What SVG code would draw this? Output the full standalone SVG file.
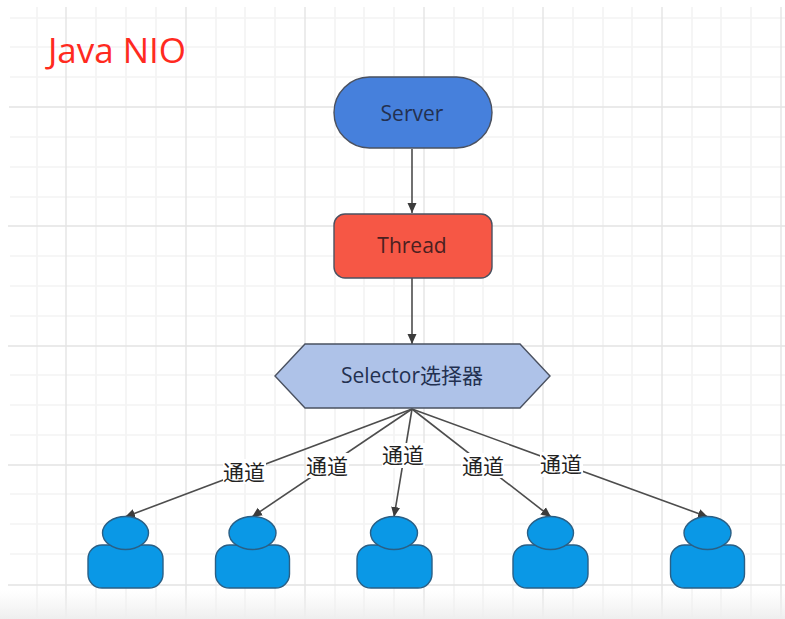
<svg xmlns="http://www.w3.org/2000/svg" width="785" height="619" viewBox="0 0 785 619">
<style>
.minor{stroke:#f3f3f3;stroke-width:1.6;fill:none}
.major{stroke:#e4e4e4;stroke-width:1.4;fill:none}
.node{stroke:#4a5160;stroke-width:1.4}
.person{fill:#0a98e6;stroke:#2a5f85;stroke-width:1.4}
.conn{stroke:#4d4d4d;stroke-width:1.6;fill:none;marker-end:url(#arrow)}
text{font-family:"Open Sans","Noto Sans CJK SC",sans-serif;text-anchor:middle}
.lbl{font-family:"Noto Sans CJK SC",sans-serif;font-size:21px;fill:#222}
.nt{font-size:21px;fill:#233050}
</style>
<defs>
<marker id="arrow" markerUnits="userSpaceOnUse" markerWidth="12" markerHeight="10" refX="10" refY="5" orient="auto"><path d="M0 0.500L10 5L0 9.500Z" fill="#3c3c3c"/></marker>
<linearGradient id="fade" x1="0" y1="0" x2="0" y2="1"><stop offset="0" stop-color="#f2f2f2" stop-opacity="0"/><stop offset="1" stop-color="#eeeeee" stop-opacity="1"/></linearGradient>
</defs>
<rect width="785" height="619" fill="#fff"/>
<g id="grid">
<path class="minor" d="M37 7V619M96 7V619M126 7V619M156 7V619M216 7V619M245 7V619M275 7V619M335 7V619M364 7V619M394 7V619M454 7V619M483 7V619M513 7V619M573 7V619M603 7V619M632 7V619M692 7V619M721 7V619M751 7V619"/>
<path class="minor" d="M10 18H785M10 47H785M10 77H785M10 137H785M10 167H785M10 197H785M10 256H785M10 286H785M10 316H785M10 375H785M10 405H785M10 435H785M10 494H785M10 524H785M10 554H785"/>
<path class="major" d="M66 7V619M186 7V619M305 7V619M424 7V619M543 7V619M662 7V619M781 7V619"/>
<path class="major" d="M9 107H785M8 226H785M8 346H785M8 465H785M8 585H785"/>
</g>
<rect x="0" y="590" width="785" height="29" fill="url(#fade)"/>
<text x="117" y="63" font-size="35" fill="#ff2a1f" id="title">Java NIO</text>
<g id="connectors">
<path class="conn" d="M412 149V213"/>
<path class="conn" d="M412 278V344"/>
<path class="conn" d="M412 409L125 517"/>
<path class="conn" d="M412 409L252 517"/>
<path class="conn" d="M412 409L394 517"/>
<path class="conn" d="M412 409L551 517"/>
<path class="conn" d="M412 409L708 517"/>
</g>
<g id="server"><rect class="node" x="334" y="77" width="158" height="71" rx="35.500" fill="#4680dc"/><text class="nt" x="412" y="121">Server</text></g>
<g id="thread"><rect class="node" x="334" y="214" width="158" height="64" rx="11" fill="#f65745"/><text class="nt" x="412" y="253" style="fill:#4a2020">Thread</text></g>
<g id="selector"><polygon class="node" points="275,376 305,344 520,344 550,376 520,408 305,408" fill="#aec2e8"/><text class="nt" x="412" y="383">Selector选择器</text></g>
<g id="labels">
<rect x="223" y="459" width="43" height="25" fill="#fff"/><text class="lbl" x="244" y="480">通道</text>
<rect x="306" y="453" width="43" height="25" fill="#fff"/><text class="lbl" x="327" y="474">通道</text>
<rect x="382" y="443" width="43" height="25" fill="#fff"/><text class="lbl" x="403" y="463">通道</text>
<rect x="461" y="453" width="43" height="25" fill="#fff"/><text class="lbl" x="483" y="474">通道</text>
<rect x="540" y="452" width="43" height="25" fill="#fff"/><text class="lbl" x="561" y="472">通道</text>
</g>
<g id="person1"><rect class="person" x="88" y="545" width="75" height="43" rx="14"/><ellipse class="person" cx="125.500" cy="533" rx="23" ry="16.500"/></g>
<g id="person2"><rect class="person" x="215.500" y="545" width="74" height="43" rx="14"/><ellipse class="person" cx="252.500" cy="533" rx="23.500" ry="16.500"/></g>
<g id="person3"><rect class="person" x="357" y="545" width="75" height="43" rx="14"/><ellipse class="person" cx="394" cy="533" rx="23.500" ry="16.500"/></g>
<g id="person4"><rect class="person" x="513" y="545" width="75" height="43" rx="14"/><ellipse class="person" cx="550.500" cy="533" rx="23" ry="16.500"/></g>
<g id="person5"><rect class="person" x="670.500" y="545" width="74" height="43" rx="14"/><ellipse class="person" cx="707.500" cy="533" rx="23.500" ry="16.500"/></g>
</svg>
